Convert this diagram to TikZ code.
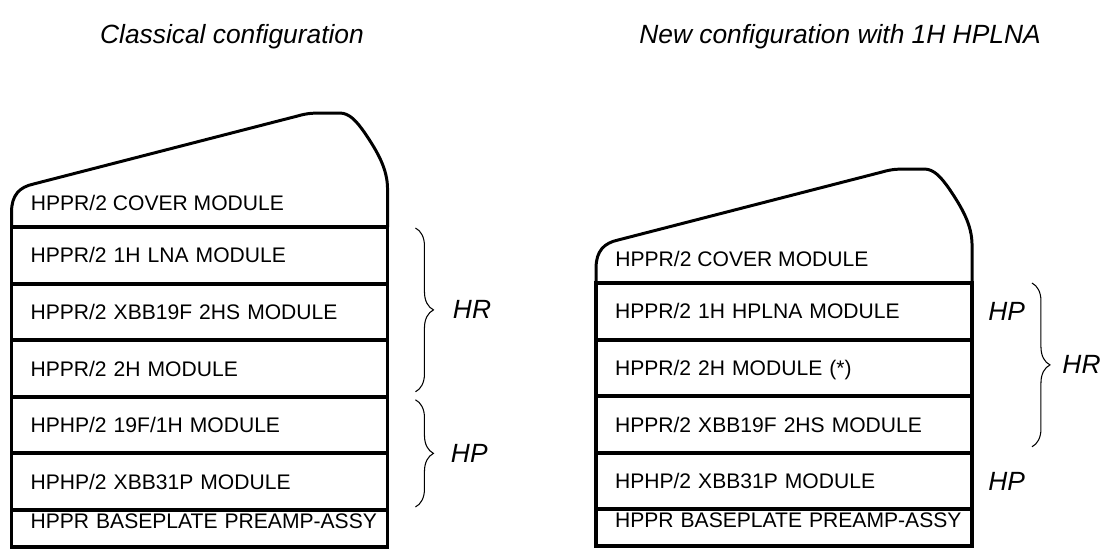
\documentclass[tikz,border=0pt]{standalone}
\usepackage{fontspec}
\setmainfont{Liberation Sans}
\usetikzlibrary{positioning, decorations.pathreplacing}

\begin{document}
\begin{tikzpicture}[
    x=0.02cm, y=-0.02cm,
    font=\fontsize{12}{14}\selectfont,
    module/.style={
        draw, line width=2.2pt, outer sep=0pt,
        minimum width=7.52cm, minimum height=1.132cm,
        text width=6.76cm, align=left, inner xsep=0.38cm, inner ysep=0pt,
        text height=0.304cm, text depth=0pt
    },
    baseplate/.style={
        module, minimum height=0.74cm, text depth=0.316cm,
        text width=7.2cm, inner xsep=0.16cm,
        execute at begin node={\hspace*{0.22cm}}
    },
    cover/.style={line width=1.7pt, line join=round},
    coverlbl/.style={anchor=base west, inner sep=0pt},
    brace/.style={decorate, decoration={brace, amplitude=0.36cm}, line width=0.6pt},
    group/.style={font=\fontsize{15}{17}\selectfont\itshape, inner sep=0pt},
    title/.style={font=\fontsize{15}{17}\selectfont\itshape, anchor=base}
]
\useasboundingbox (0,0) rectangle (1108,549);

% -- titles --
\node[title] (classical) at (232,43) {Classical configuration};
\node[title] (newconf) at (840,43) {New configuration with 1H HPLNA};

% -- classical stack --
\node[module] (l1) at (199.5,255.3) {HPPR/2 1H LNA MODULE};
\node[module, below=0pt of l1] (l2) {HPPR/2 XBB19F 2HS MODULE};
\node[module, below=0pt of l2] (l3) {HPPR/2 2H MODULE};
\node[module, below=0pt of l3] (l4) {HPHP/2 19F/1H MODULE};
\node[module, below=0pt of l4] (l5) {HPHP/2 XBB31P MODULE};
\node[baseplate, below=0pt of l5] (l6) {HPPR BASEPLATE PREAMP-ASSY};

% -- new stack --
\node[module] (r1) at (784,311.3) {HPPR/2 1H HPLNA MODULE};
\node[module, below=0pt of r1] (r2) {HPPR/2 2H MODULE (*)};
\node[module, below=0pt of r2] (r3) {HPPR/2 XBB19F 2HS MODULE};
\node[module, below=0pt of r3] (r4) {HPHP/2 XBB31P MODULE};
\node[baseplate, below=0pt of r4] (r5) {HPPR BASEPLATE PREAMP-ASSY};

% -- cover modules --
\foreach \stk in {l1, r1} {
    \begin{scope}[shift={(\stk.north west)}]
        \draw[cover] (0,0) -- (0,-15)
            .. controls (0,-32) and (8,-40) .. (22,-43)
            -- (286,-111)
            .. controls (296,-114) and (303,-114) .. (310,-114)
            -- (328,-114)
            .. controls (338,-114) and (345,-106) .. (354,-93)
            .. controls (366,-75) and (376,-58) .. (376,-38)
            -- (376,0);
    \end{scope}
}
\node[coverlbl] (lcover) at ([xshift=0.38cm, yshift=0.34cm]l1.north west) {HPPR/2 COVER MODULE};
\node[coverlbl] (rcover) at ([xshift=0.38cm, yshift=0.34cm]r1.north west) {HPPR/2 COVER MODULE};

% -- groups, classical --
\draw[brace] ([xshift=0.56cm, yshift=-0.02cm]l1.north east)
    -- node[group, right=0.74cm] (lhr) {HR} ([xshift=0.56cm, yshift=0.1cm]l3.south east);
\draw[brace] ([xshift=0.56cm, yshift=-0.06cm]l4.north east)
    -- node[group, right=0.7cm] (lhp) {HP} ([xshift=0.56cm, yshift=0.06cm]l5.south east);

% -- groups, new --
\draw[brace] ([xshift=1.2cm]r1.north east)
    -- node[group, right=0.6cm] (rhr) {HR} ([xshift=1.2cm, yshift=0.12cm]r3.south east);
\node[group, right=0.32cm of r1] (rhp1) {HP};
\node[group, right=0.32cm of r4] (rhp2) {HP};

\end{tikzpicture}
\end{document}
